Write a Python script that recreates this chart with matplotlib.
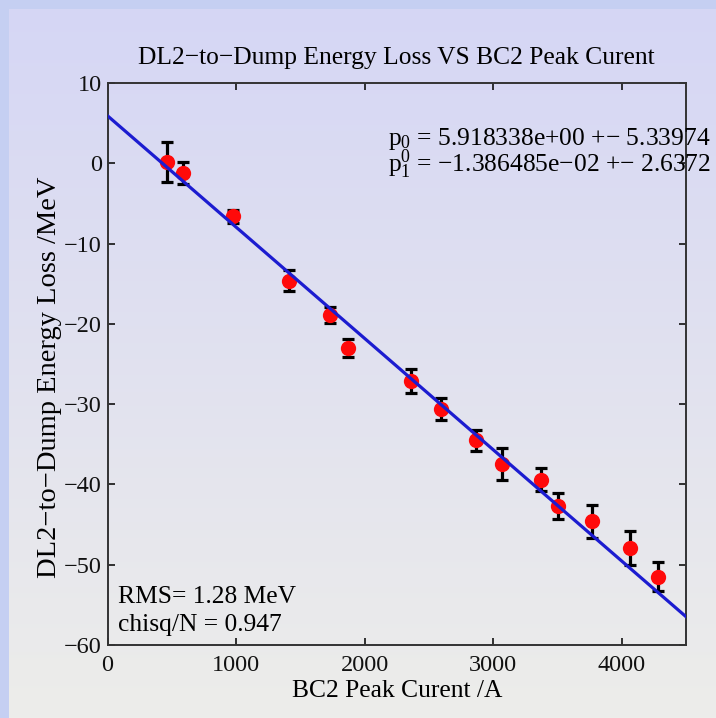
import numpy as np
import matplotlib
matplotlib.use("Agg")
import matplotlib.pyplot as plt

plt.rcParams['font.family'] = ['Liberation Serif', 'DejaVu Serif']
plt.rcParams['mathtext.fontset'] = 'custom'
plt.rcParams['mathtext.rm'] = 'Liberation Serif'
plt.rcParams['mathtext.it'] = 'Liberation Serif'

# ---- data ----
current = [461, 586, 973, 1415, 1734, 1869, 2358, 2597, 2864, 3067, 3371, 3501, 3768, 4065, 4281]
energy_loss = [0.2, -1.2, -6.6, -14.6, -18.9, -23.0, -27.1, -30.6, -34.5, -37.5, -39.4, -42.7, -44.6, -47.9, -51.5]
err = [2.5, 1.4, 0.8, 1.35, 1.0, 1.1, 1.45, 1.4, 1.33, 2.0, 1.4, 1.66, 2.1, 2.1, 1.8]
p0 = 5.918338
p1 = -1.386485e-02
fit_range = [0, 4500]
xticks = [0, 1000, 2000, 3000, 4000]
yticks = [10, 0, -10, -20, -30, -40, -50, -60]

W, H = 716, 718
fig = plt.figure(figsize=(W / 100, H / 100), dpi=100)

# background gradient (slide look)
bg = fig.add_axes([0, 0, 1, 1], zorder=-10)
rows = np.linspace(0, 1, H)[:, None]
top = np.array([213, 214, 245]) / 255
bot = np.array([237, 237, 234]) / 255
img = top[None, None, :] * (1 - rows[..., None]) + bot[None, None, :] * rows[..., None]
img = np.repeat(img, W, axis=1)
border = np.array([197, 207, 242]) / 255
img[:9, :, :] = border
img[:, :9, :] = border
bg.imshow(img, aspect='auto', extent=[0, 1, 0, 1], origin='upper')
bg.axis('off')

ax = fig.add_axes([107.5 / W, 1 - 645 / H, (686 - 107.5) / W, (645 - 83) / H])
ax.set_facecolor('none')

ax.errorbar(current, energy_loss, yerr=err, fmt='none', ecolor='black',
            elinewidth=2.3, capsize=4, capthick=2.3, zorder=2)
ax.plot(current, energy_loss, 'o', color='#ff0a0a', markersize=11,
        markeredgewidth=0, zorder=3)
xf = np.array(fit_range, dtype=float)
ax.plot(xf, p0 + p1 * xf, color='#1c1cd0', linewidth=2.3, zorder=4)

ax.set_xlim(0, 4500)
ax.set_ylim(-60, 10)
ax.set_xticks(xticks)
ax.set_yticks(yticks)
ax.tick_params(direction='in', top=True, right=True, length=5, width=1.2,
               labelsize=17.5, colors='#111111')
ax.tick_params(axis='x', pad=7)
ax.tick_params(axis='y', pad=4)
for s in ax.spines.values():
    s.set_linewidth(1.4)
    s.set_color('#333333')

ax.set_title('DL2\u2212to\u2212Dump Energy Loss VS BC2 Peak Curent', fontsize=18.4, pad=14)
ax.set_xlabel('BC2 Peak Curent /A', fontsize=18.4, labelpad=3)
ax.set_ylabel('DL2\u2212to\u2212Dump Energy Loss /MeV', fontsize=20.5, labelpad=0)
ax.yaxis.set_label_coords(62 / W, 1 - 377 / H, transform=fig.transFigure)

fit_text = ('p$_0$ = 5.918338e+00 +\u2212 5.33974\n'
            'p$_1^0$ = \u22121.386485e\u221202 +\u2212 2.6372')
ax.text(388 / W, 1 - 172 / H, fit_text, transform=fig.transFigure, fontsize=18.4,
        ha='left', va='baseline', linespacing=0.85, clip_on=False)
ax.text(118 / W, 1 - 603 / H, 'RMS= 1.28 MeV', transform=fig.transFigure,
        fontsize=18.4, ha='left', va='baseline')
ax.text(118 / W, 1 - 631 / H, 'chisq/N = 0.947', transform=fig.transFigure,
        fontsize=18.4, ha='left', va='baseline')

fig.savefig('out.png', dpi=100)
